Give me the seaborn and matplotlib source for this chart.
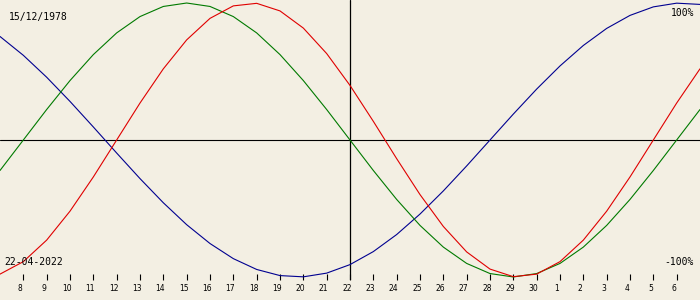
import matplotlib
matplotlib.use("Agg")
import matplotlib.pyplot as plt
import matplotlib.transforms as mtransforms
import seaborn as sns
import pandas as pd

# day offsets relative to 22-04-2022 and their calendar labels
day_offset = list(range(-15, 16))
tick_days = list(range(-14, 15))
tick_labels = ["8", "9", "10", "11", "12", "13", "14", "15", "16", "17", "18", "19",
               "20", "21", "22", "23", "24", "25", "26", "27", "28", "29", "30",
               "1", "2", "3", "4", "5", "6"]

physical = [-0.9791, -0.8879, -0.7308, -0.5196, -0.2698, 0.0, 0.2698, 0.5196, 0.7308,
            0.8879, 0.9791, 0.9977, 0.9423, 0.8170, 0.6311, 0.3984, 0.1362, -0.1362,
            -0.3984, -0.6311, -0.8170, -0.9423, -0.9977, -0.9791, -0.8879, -0.7308,
            -0.5196, -0.2698, 0.0, 0.2698, 0.5196]
emotional = [-0.2225, 0.0, 0.2225, 0.4339, 0.6235, 0.7818, 0.9010, 0.9749, 1.0, 0.9749,
             0.9010, 0.7818, 0.6235, 0.4339, 0.2225, 0.0, -0.2225, -0.4339, -0.6235,
             -0.7818, -0.9010, -0.9749, -1.0, -0.9749, -0.9010, -0.7818, -0.6235,
             -0.4339, -0.2225, 0.0, 0.2225]
intellectual = [0.7557, 0.6182, 0.4582, 0.2817, 0.0951, -0.0951, -0.2817, -0.4582,
                -0.6182, -0.7557, -0.8660, -0.9450, -0.9898, -0.9989, -0.9718, -0.9096,
                -0.8146, -0.6901, -0.5406, -0.3717, -0.1893, 0.0, 0.1893, 0.3717, 0.5406,
                0.6901, 0.8146, 0.9096, 0.9718, 0.9989, 0.9898]

birth_label = "15/12/1978"
date_label = "22-04-2022"

bg = "#F3EFE3"
sns.set_style("white")
plt.rcParams["text.color"] = "black"
plt.rcParams["xtick.color"] = "black"

df = pd.DataFrame({"day": day_offset, "physical": physical,
                   "emotional": emotional, "intellectual": intellectual})

fig = plt.figure(figsize=(7, 3), dpi=100, facecolor=bg)
ax = fig.add_axes([0, 20 / 300, 1, 280 / 300])
ax.set_facecolor(bg)

sns.lineplot(data=df, x="day", y="intellectual", color="#000090", lw=0.8, ax=ax)
sns.lineplot(data=df, x="day", y="emotional", color="#007A00", lw=0.8, ax=ax)
sns.lineplot(data=df, x="day", y="physical", color="#E00000", lw=0.8, ax=ax)

ax.axhline(0, color="black", lw=0.8, zorder=0.5)
ax.axvline(0, color="black", lw=0.9, zorder=0.5)

ax.set_xlim(-15, 15)
ax.set_ylim(-1.022, 1.022)
for s in ax.spines.values():
    s.set_visible(False)
ax.set_xlabel("")
ax.set_ylabel("")
ax.set_yticks([])
ax.set_xticks(tick_days)
ax.set_xticklabels(tick_labels, family="DejaVu Sans", fontsize=5.5, color="black")
ax.tick_params(axis="x", direction="in", length=4.3, width=0.8, color="black",
               pad=3, bottom=True)
off = mtransforms.ScaledTranslation(-3 / 100, 0, fig.dpi_scale_trans)
for lab in ax.get_xticklabels():
    lab.set_transform(lab.get_transform() + off)

mono = "DejaVu Sans Mono"
fig.text(9 / 700, 1 - 17 / 300, birth_label, family=mono, fontsize=7, va="center", ha="left", color="black")
fig.text(694 / 700, 1 - 13 / 300, "100%", family=mono, fontsize=7, va="center", ha="right", color="black")
fig.text(4 / 700, 1 - 262 / 300, date_label, family=mono, fontsize=7, va="center", ha="left", color="black")
fig.text(694 / 700, 1 - 262 / 300, "-100%", family=mono, fontsize=7, va="center", ha="right", color="black")

fig.savefig("out.png", dpi=100, facecolor=bg)
